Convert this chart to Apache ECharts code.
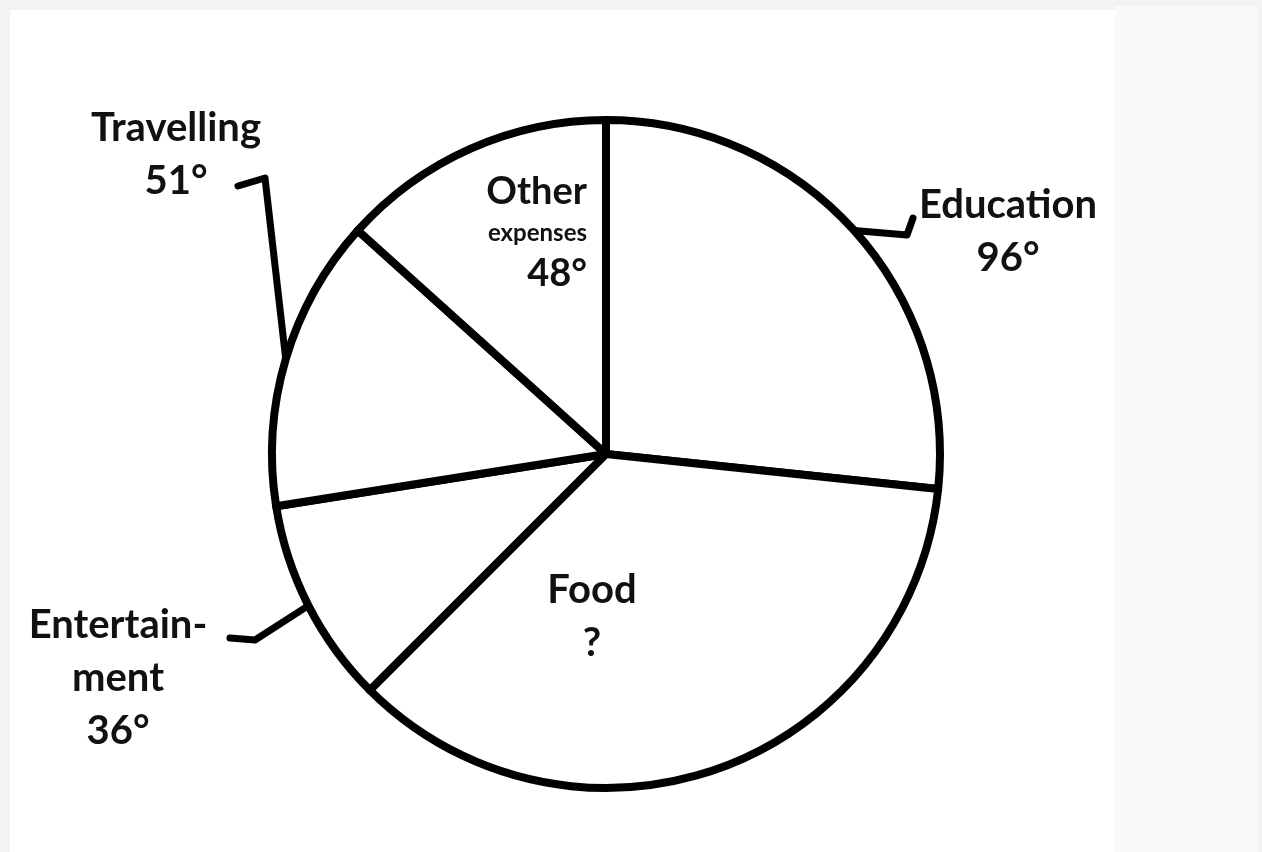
<!DOCTYPE html>
<html>
<head>
<meta charset="utf-8">
<script src="https://cdn.jsdelivr.net/npm/echarts@6/dist/echarts.min.js"></script>
<style>
    html, body { margin: 0; padding: 0; width: 1262px; height: 852px; background: #f3f3f3; overflow: hidden; }
    #panel { position: absolute; left: 10px; top: 10px; width: 1105px; height: 842px; background: #ffffff; }
    #side { position: absolute; left: 1115px; top: 6px; width: 143px; height: 846px; background: #fafafa; }
    #main { position: absolute; left: 0; top: 0; width: 1262px; height: 852px; }
</style>
</head>
<body>
<div id="panel"></div>
<div id="side"></div>
<div id="main"></div>
<script>
// 扇区 (clockwise from 12 o'clock)
var categories = ['Education', 'Food', 'Entertainment', 'Travelling', 'Other expenses'];
// 角度 (Food is 360 minus the others)
var degrees = [96, 129, 36, 51, 48];
// 标签文字
var nameTexts = ['Education', 'Food', 'Entertain-\nment', 'Travelling', 'Other\nexpenses'];
var valueTexts = ['96°', '?', '36°', '51°', '48°'];

// label placement, leader line bends
var labelPlace = {
    'Education': { x: 1008, y: 232, align: 'center', bends: [[907, 235], [913, 218]] },
    'Food': { x: 592, y: 617, align: 'center' },
    'Entertainment': { x: 118, y: 678, align: 'center', bends: [[255, 640], [230, 638]] },
    'Travelling': { x: 176, y: 155, align: 'center', bends: [[265, 178], [238, 186]] },
    'Other expenses': { x: 587, y: 233, align: 'right' }
};

var inside = ['Food', 'Other expenses'];

function buildData() {
    var list = [];
    categories.forEach(function (name, i) {
        var isOther = name === 'Other expenses';
        var text = isOther
            ? '{big|Other}\n{small|expenses}\n{big|' + valueTexts[i] + '}'
            : nameTexts[i] + '\n' + valueTexts[i];
        list.push({
            name: name,
            value: degrees[i],
            label: {
                formatter: text,
                position: inside.indexOf(name) > -1 ? 'inside' : 'outside'
            },
            labelLine: { show: inside.indexOf(name) === -1 }
        });
    });
    return list;
}

var myChart = echarts.init(document.getElementById('main'), null, { renderer: 'canvas' });
var option = {
    backgroundColor: 'transparent',
    animation: false,
    series: [
        {
            type: 'pie',
            center: [606, 454],
            radius: 334,
            startAngle: 90,
            clockwise: true,
            silent: true,
            avoidLabelOverlap: false,
            data: buildData(),
            itemStyle: {
                color: '#ffffff',
                borderColor: '#000000',
                borderWidth: 8,
                borderJoin: 'round'
            },
            label: {
                show: true,
                color: '#111111',
                fontFamily: 'Lato',
                fontWeight: 'bold',
                fontSize: 40,
                lineHeight: 53,
                rich: {
                    big: { fontFamily: 'Lato', fontWeight: 'bold', fontSize: 38, lineHeight: 44, color: '#111111', align: 'right' },
                    small: { fontFamily: 'Lato', fontWeight: 'bold', fontSize: 24, lineHeight: 38, color: '#111111', align: 'right' }
                }
            },
            labelLine: {
                show: true,
                length: 30,
                length2: 30,
                smooth: false,
                lineStyle: { color: '#000000', width: 7, cap: 'round', join: 'round' }
            },
            labelLayout: function (params) {
                var name = categories[params.dataIndex];
                var p = labelPlace[name];
                var res = { x: p.x, y: p.y, align: p.align, verticalAlign: 'middle' };
                if (p.bends && params.labelLinePoints) {
                    var start = params.labelLinePoints[0];
                    res.labelLinePoints = [start, p.bends[0], p.bends[1]];
                }
                return res;
            }
        }
    ]
};
myChart.setOption(option);
</script>
</body>
</html>
